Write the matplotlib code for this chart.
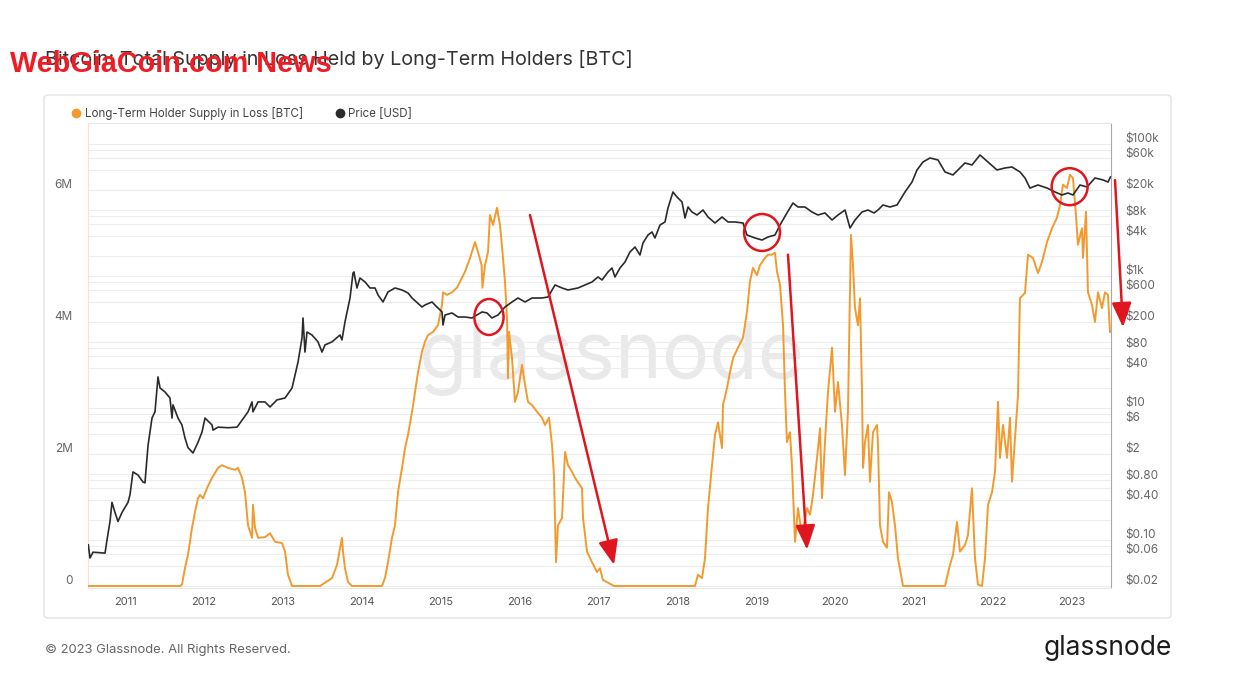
import matplotlib
matplotlib.use("Agg")
import matplotlib.pyplot as plt
from matplotlib.lines import Line2D
from matplotlib.patches import Ellipse, FancyBboxPatch
from matplotlib.transforms import ScaledTranslation
from matplotlib.ticker import NullLocator

plt.rcParams['font.family'] = ['Inter', 'DejaVu Sans']

# ---------------- data ----------------
price_years = [2010.535, 2010.556, 2010.594, 2010.747, 2010.772, 2010.81, 2010.835, 2010.873, 2010.911, 2010.962,
               2011.038, 2011.063, 2011.101, 2011.165, 2011.228, 2011.253, 2011.292, 2011.342, 2011.38, 2011.418,
               2011.444, 2011.507, 2011.57, 2011.596, 2011.608, 2011.672, 2011.722, 2011.76, 2011.798, 2011.862,
               2011.925, 2011.976, 2012.014, 2012.103, 2012.115, 2012.179, 2012.305, 2012.42, 2012.483, 2012.559,
               2012.61, 2012.622, 2012.686, 2012.774, 2012.838, 2012.926, 2013.028, 2013.117, 2013.193, 2013.243,
               2013.256, 2013.281, 2013.307, 2013.37, 2013.446, 2013.497, 2013.535, 2013.624, 2013.725, 2013.75,
               2013.788, 2013.852, 2013.89, 2013.902, 2013.915, 2013.94, 2013.978, 2014.042, 2014.105, 2014.169,
               2014.207, 2014.27, 2014.333, 2014.422, 2014.511, 2014.587, 2014.638, 2014.764, 2014.802, 2014.891,
               2014.954, 2015.018, 2015.03, 2015.056, 2015.144, 2015.221, 2015.309, 2015.398, 2015.461, 2015.525,
               2015.588, 2015.651, 2015.727, 2015.816, 2015.905, 2015.981, 2016.07, 2016.159, 2016.285, 2016.361,
               2016.45, 2016.539, 2016.615, 2016.741, 2016.83, 2016.919, 2016.995, 2017.046, 2017.122, 2017.172,
               2017.21, 2017.274, 2017.337, 2017.4, 2017.464, 2017.527, 2017.565, 2017.629, 2017.679, 2017.717,
               2017.781, 2017.844, 2017.882, 2017.945, 2017.996, 2018.06, 2018.098, 2018.136, 2018.186, 2018.25,
               2018.326, 2018.389, 2018.478, 2018.567, 2018.643, 2018.731, 2018.833, 2018.883, 2018.985, 2019.074,
               2019.15, 2019.239, 2019.302, 2019.39, 2019.466, 2019.53, 2019.618, 2019.707, 2019.783, 2019.872,
               2019.961, 2020.037, 2020.126, 2020.189, 2020.253, 2020.341, 2020.417, 2020.493, 2020.544, 2020.607,
               2020.696, 2020.785, 2020.886, 2020.975, 2021.038, 2021.114, 2021.203, 2021.304, 2021.393, 2021.494,
               2021.558, 2021.646, 2021.735, 2021.837, 2021.938, 2022.052, 2022.153, 2022.242, 2022.343, 2022.407,
               2022.47, 2022.572, 2022.686, 2022.787, 2022.876, 2022.952, 2023.015, 2023.104, 2023.193, 2023.294,
               2023.396, 2023.459, 2023.49]
price_usd = [0.084, 0.053, 0.065, 0.063, 0.10, 0.19, 0.37, 0.26, 0.19, 0.26,
             0.37, 0.48, 1.07, 0.96, 0.75, 0.73, 2.7, 7.0, 8.7, 29.4,
             20, 17.4, 14.1, 7.0, 11.1, 7.0, 5.5, 3.5, 2.5, 2.07,
             3.0, 4.3, 7.0, 5.5, 4.6, 5.1, 5.0, 5.1, 6.5, 8.7,
             12.3, 8.7, 12.3, 12.3, 10.3, 13.2, 14.1, 20, 49.5, 114,
             230, 70, 141, 127, 100, 70, 90, 100, 127, 107,
             200, 462, 1106, 1145, 928, 655, 928, 808, 655, 655,
             513, 402, 570, 655, 611, 550, 462, 337, 362, 402,
             337, 284, 180, 255, 274, 238, 238, 230, 255, 284,
             274, 230, 255, 337, 402, 462, 402, 462, 462, 478,
             727, 655, 611, 655, 727, 808, 962, 866, 1145, 1316,
             962, 1316, 1622, 2300, 2738, 2070, 3148, 4160, 4620, 3750,
             5900, 6550, 10670, 18660, 15660, 13160, 7530, 11050, 9280, 8360,
             9950, 7800, 6320, 7800, 6550, 6550, 6320, 4160, 3750, 3490,
             3880, 4160, 5900, 8970, 12700, 11050, 11050, 9280, 8360, 8970,
             7020, 8360, 9950, 5310, 7020, 9280, 9950, 8970, 9950, 11860,
             11050, 11860, 18660, 26400, 40200, 53100, 61100, 57000, 37500, 33800,
             40200, 51300, 47900, 67800, 53100, 40200, 43100, 44600, 37500, 30400,
             21400, 23800, 21400, 18660, 16800, 18000, 16800, 23800, 22200, 30400,
             28400, 26400, 31500]

lth_years = [2010.53, 2011.697, 2011.722, 2011.76, 2011.798, 2011.849, 2011.887, 2011.925, 2011.951, 2011.989,
             2012.039, 2012.103, 2012.179, 2012.229, 2012.305, 2012.394, 2012.432, 2012.483, 2012.521, 2012.559,
             2012.61, 2012.622, 2012.648, 2012.686, 2012.774, 2012.838, 2012.901, 2012.99, 2013.028, 2013.066,
             2013.117, 2013.472, 2013.535, 2013.624, 2013.687, 2013.75, 2013.763, 2013.788, 2013.826, 2013.877,
             2014.257, 2014.295, 2014.333, 2014.384, 2014.422, 2014.46, 2014.511, 2014.549, 2014.587, 2014.638,
             2014.676, 2014.714, 2014.764, 2014.802, 2014.84, 2014.904, 2014.967, 2015.018, 2015.03, 2015.081,
             2015.144, 2015.208, 2015.246, 2015.309, 2015.373, 2015.436, 2015.474, 2015.52, 2015.53, 2015.563,
             2015.601, 2015.626, 2015.664, 2015.715, 2015.753, 2015.791, 2015.816, 2015.842, 2015.854, 2015.867,
             2015.905, 2015.943, 2015.981, 2016.032, 2016.07, 2016.108, 2016.158, 2016.222, 2016.285, 2016.323,
             2016.374, 2016.412, 2016.437, 2016.463, 2016.488, 2016.539, 2016.577, 2016.615, 2016.665, 2016.703,
             2016.792, 2016.805, 2016.856, 2016.919, 2016.982, 2017.02, 2017.058, 2017.122, 2017.198, 2018.224,
             2018.262, 2018.313, 2018.351, 2018.389, 2018.44, 2018.478, 2018.516, 2018.567, 2018.579, 2018.63,
             2018.668, 2018.706, 2018.769, 2018.833, 2018.883, 2018.921, 2018.959, 2019.01, 2019.048, 2019.111,
             2019.15, 2019.2, 2019.238, 2019.264, 2019.302, 2019.34, 2019.365, 2019.39, 2019.428, 2019.453,
             2019.492, 2019.53, 2019.58, 2019.644, 2019.682, 2019.72, 2019.771, 2019.809, 2019.834, 2019.872,
             2019.91, 2019.961, 2019.999, 2020.037, 2020.087, 2020.125, 2020.163, 2020.201, 2020.227, 2020.252,
             2020.29, 2020.316, 2020.341, 2020.354, 2020.379, 2020.417, 2020.442, 2020.48, 2020.531, 2020.544,
             2020.569, 2020.607, 2020.658, 2020.683, 2020.721, 2020.759, 2020.797, 2020.861, 2021.393, 2021.456,
             2021.494, 2021.545, 2021.583, 2021.646, 2021.684, 2021.735, 2021.773, 2021.811, 2021.862, 2021.9,
             2021.938, 2021.989, 2022.027, 2022.065, 2022.09, 2022.128, 2022.179, 2022.217, 2022.242, 2022.28,
             2022.318, 2022.343, 2022.407, 2022.445, 2022.508, 2022.572, 2022.622, 2022.686, 2022.749, 2022.812,
             2022.85, 2022.888, 2022.939, 2022.977, 2023.015, 2023.053, 2023.078, 2023.129, 2023.142, 2023.18,
             2023.205, 2023.256, 2023.294, 2023.332, 2023.383, 2023.421, 2023.459, 2023.484]
lth_supply_m = [0, 0, 0.02, 0.27, 0.47, 0.88, 1.12, 1.33, 1.38, 1.33,
                1.48, 1.64, 1.79, 1.83, 1.79, 1.76, 1.79, 1.64, 1.42, 0.92,
                0.73, 1.23, 0.88, 0.73, 0.74, 0.80, 0.67, 0.65, 0.52, 0.17,
                0, 0, 0.05, 0.12, 0.32, 0.73, 0.52, 0.27, 0.06, 0,
                0, 0.12, 0.36, 0.73, 0.92, 1.42, 1.79, 2.09, 2.29, 2.64,
                2.94, 3.24, 3.55, 3.70, 3.80, 3.85, 3.95, 4.26, 4.45, 4.41,
                4.45, 4.52, 4.61, 4.76, 4.97, 5.21, 5.06, 4.86, 4.52, 4.86,
                5.06, 5.62, 5.47, 5.73, 5.47, 4.97, 4.61, 4.06, 3.15, 3.85,
                3.45, 2.79, 2.94, 3.35, 3.05, 2.79, 2.74, 2.64, 2.55, 2.44,
                2.55, 2.14, 1.68, 0.36, 0.92, 1.03, 2.03, 1.83, 1.73, 1.64,
                1.48, 1.03, 0.52, 0.36, 0.21, 0.27, 0.09, 0.05, 0, 0,
                0.17, 0.12, 0.42, 1.18, 1.83, 2.29, 2.48, 2.09, 2.74, 3.0,
                3.24, 3.45, 3.61, 3.76, 4.15, 4.61, 4.82, 4.71, 4.86, 4.97,
                5.02, 5.02, 5.05, 4.76, 4.56, 3.95, 2.94, 2.18, 2.33, 1.83,
                0.67, 1.18, 0.77, 1.18, 1.08, 1.38, 1.94, 2.39, 1.33, 2.18,
                2.94, 3.61, 2.64, 3.09, 2.44, 1.68, 2.64, 5.32, 4.86, 4.21,
                3.95, 4.36, 2.94, 1.79, 2.18, 2.44, 1.58, 2.33, 2.44, 2.14,
                0.92, 0.67, 0.58, 1.42, 1.27, 0.92, 0.42, 0, 0, 0.32,
                0.47, 0.97, 0.52, 0.62, 0.77, 1.48, 0.42, 0.02, 0, 0.42,
                1.23, 1.42, 1.73, 2.79, 1.94, 2.44, 1.94, 2.55, 1.58, 2.24,
                2.89, 4.36, 4.44, 5.02, 4.97, 4.74, 4.91, 5.21, 5.42, 5.58,
                5.77, 6.08, 6.03, 6.23, 6.18, 5.62, 5.17, 5.42, 4.97, 5.67,
                4.45, 4.26, 4.0, 4.45, 4.21, 4.45, 4.41, 3.85]

year_ticks = list(range(2011, 2024))
supply_ticks = [0, 2, 4, 6]
supply_labels = ['0', '2M', '4M', '6M']
price_grid = [0.02, 0.04, 0.06, 0.08, 0.1, 0.2, 0.4, 0.6, 0.8, 1, 2, 4, 6, 8, 10, 20, 40, 60, 80,
              100, 200, 400, 600, 800, 1000, 2000, 4000, 6000, 8000, 10000, 20000, 40000, 60000,
              80000, 100000]
price_labels = {0.02: '$0.02', 0.06: '$0.06', 0.1: '$0.10', 0.4: '$0.40', 0.8: '$0.80', 2: '$2',
                6: '$6', 10: '$10', 40: '$40', 80: '$80', 200: '$200', 600: '$600', 1000: '$1k',
                4000: '$4k', 8000: '$8k', 20000: '$20k', 60000: '$60k', 100000: '$100k'}

# ---------------- layout ----------------
W, H = 1248, 691
fig = plt.figure(figsize=(W / 100, H / 100), dpi=100)
fig.patch.set_facecolor('white')


def fx(px):
    return px / W


def fy(py):
    return 1 - py / H


ORANGE = '#f29a2e'
DARK = '#2b2b2b'
RED = '#e0161e'

l, r, t, b = 88, 1111, 123, 587.5
rect = [fx(l), fy(b), fx(r) - fx(l), fy(t) - fy(b)]

supply_lim = (-0.023, 7.015)
price_lim = (0.02 * 10 ** supply_lim[0], 0.02 * 10 ** supply_lim[1])
xlim = (2010.531, 2023.497)

# outer frame
fig.add_artist(FancyBboxPatch((fx(44), fy(618)), fx(1171) - fx(44), fy(95) - fy(618),
                              boxstyle='round,pad=0,rounding_size=0.004', transform=fig.transFigure,
                              fc='none', ec='#e3e3e3', lw=1))

ax_g = fig.add_axes(rect)
ax_o = fig.add_axes(rect, sharex=ax_g)
ax_p = fig.add_axes(rect, sharex=ax_g)

# grid / price axis
ax_g.set_yscale('log')
ax_g.set_ylim(price_lim)
ax_g.set_xlim(xlim)
ax_g.yaxis.tick_right()
ax_g.set_yticks(price_grid)
ax_g.set_yticklabels([price_labels.get(v, '') for v in price_grid])
ax_g.yaxis.set_minor_locator(NullLocator())
ax_g.grid(axis='y', color='#ededed', lw=0.8)
ax_g.tick_params(axis='y', length=0, pad=10, labelsize=8.5, labelcolor='#666666')
ax_g.set_xticks(year_ticks)
ax_g.set_xticklabels([str(y) for y in year_ticks])
ax_g.tick_params(axis='x', length=0, pad=7, labelsize=8, labelcolor='#555555')
ax_g.spines['left'].set_color('#f3e3d2')
ax_g.spines['right'].set_color('#a8a8a8')
ax_g.spines['top'].set_color('#e8e8e8')
ax_g.spines['bottom'].set_color('#e8e8e8')
ax_g.text(fx(611), fy(378), 'glassnode', transform=fig.transFigure, ha='center', va='baseline',
          fontsize=57, color='#e9e9e9', zorder=0)

# orange series (left axis)
ax_o.patch.set_visible(False)
for s in ax_o.spines.values():
    s.set_visible(False)
ax_o.set_ylim(supply_lim)
ax_o.set_yticks(supply_ticks)
ax_o.set_yticklabels(supply_labels)
ax_o.tick_params(axis='y', length=0, pad=11, labelsize=8.5, labelcolor='#666666')
ax_o.tick_params(axis='x', length=0, labelbottom=False)
ax_o.plot(lth_years, lth_supply_m, color=ORANGE, lw=1.4)

# price series
ax_p.set_axis_off()
ax_p.set_yscale('log')
ax_p.set_ylim(price_lim)
ax_p.plot(price_years, price_usd, color=DARK, lw=1.2)
ax_p.set_xlim(xlim)

# annotations (positions in years / million-BTC units)
circles = [((2015.613, 4.076), 0.37, 0.545), ((2019.074, 5.356), 0.455, 0.56), ((2022.973, 6.05), 0.455, 0.56)]
for (cx, cy), w, h in circles:
    ax_p.add_patch(Ellipse((cx, cy), w, h, transform=ax_o.transData, fill=False, ec=RED, lw=1.8,
                           clip_on=False, zorder=5))
arrows = [((2016.133, 5.62), (2017.198, 0.32)), ((2019.403, 5.02), (2019.644, 0.55)),
          ((2023.548, 6.15), (2023.649, 3.92))]
for start, end in arrows:
    ax_p.annotate('', xy=end, xytext=start, xycoords=ax_o.transData, textcoords=ax_o.transData,
                  arrowprops=dict(arrowstyle='-|>,head_length=0.75,head_width=0.3', color=RED, lw=1.8,
                                  mutation_scale=20, shrinkA=0, shrinkB=0),
                  annotation_clip=False, zorder=6)

# legend
fig.add_artist(Line2D([fx(76)], [fy(113)], marker='o', ms=6, color=ORANGE, transform=fig.transFigure))
fig.text(fx(85), fy(117), 'Long-Term Holder Supply in Loss [BTC]', va='baseline', fontsize=8.3, color='#444444')
fig.add_artist(Line2D([fx(340)], [fy(113)], marker='o', ms=6, color=DARK, transform=fig.transFigure))
fig.text(fx(348), fy(117), 'Price [USD]', va='baseline', fontsize=8.3, color='#444444')

# title, watermark, footer
fig.text(fx(45), fy(65), 'Bitcoin: Total Supply in Loss Held by Long-Term Holders [BTC]', va='baseline',
         fontsize=14.2, color='#333333')
fig.text(fx(10), fy(72), 'WebGiaCoin.com News', va='baseline', fontsize=20.8, fontweight='bold',
         family=['Liberation Sans', 'DejaVu Sans'], color='#ee1c25')
fig.text(fx(45), fy(653), '\u00a9 2023 Glassnode. All Rights Reserved.', va='baseline', fontsize=9.4,
         color='#666666')
fig.text(fx(1172), fy(655), 'glassnode', ha='right', va='baseline', fontsize=19, color='#1c1c1c')

fig.canvas.draw()
shift = ScaledTranslation(0, 0.06, fig.dpi_scale_trans)
for lbl in ax_g.get_yticklabels() + ax_o.get_yticklabels():
    lbl.set_transform(lbl.get_transform() + shift)

fig.savefig('out.png', dpi=100, facecolor='white')
